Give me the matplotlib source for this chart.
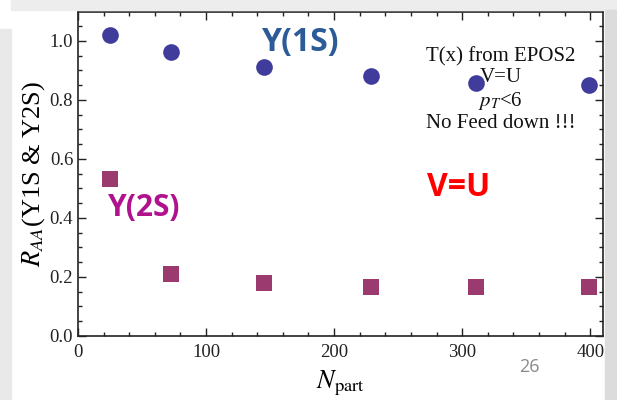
import matplotlib
matplotlib.use("Agg")
import matplotlib.pyplot as plt
from matplotlib.patches import Rectangle
from matplotlib.ticker import MultipleLocator

# --- Data ---
npart = [25, 73, 145, 229, 311, 399]
raa_1s = [1.02, 0.963, 0.91, 0.881, 0.857, 0.851]
raa_2s = [0.532, 0.21, 0.178, 0.165, 0.165, 0.165]

x_ticks = [0, 100, 200, 300, 400]
y_ticks = [0.0, 0.2, 0.4, 0.6, 0.8, 1.0]

info_lines = ["T(x) from EPOS2", "V=U", "$p_T$<6", "No Feed down !!!"]

plt.rcParams['font.family'] = ['Liberation Serif', 'DejaVu Serif']
plt.rcParams['mathtext.fontset'] = 'stix'

fig = plt.figure(figsize=(6.17, 4.0), dpi=100)

# slide background bands
fig.patches.append(Rectangle((11 / 617, 390 / 400), 606 / 617, 10 / 400,
                             transform=fig.transFigure, color='#ededed', zorder=0))
fig.patches.append(Rectangle((0, 0), 11 / 617, 371 / 400,
                             transform=fig.transFigure, color='#e9e9e9', zorder=0))
fig.patches.append(Rectangle((605 / 617, 0), 12 / 617, 390 / 400,
                             transform=fig.transFigure, color='#dcdcdc', zorder=0))

ax = fig.add_axes([78 / 617, 64 / 400, 525 / 617, 324 / 400])
ax.set_facecolor('white')

ax.plot(npart, raa_1s, 'o', color='#3f3c9b', markersize=12, markeredgewidth=0, zorder=3)
ax.plot(npart, raa_2s, 's', color='#9a3a6e', markersize=11.3, markeredgewidth=0, zorder=3)

ax.set_xlim(0, 410)
ax.set_ylim(0, 1.098)
ax.set_xticks(x_ticks)
ax.set_yticks(y_ticks)
ax.set_yticklabels([f"{v:.1f}" for v in y_ticks])
ax.xaxis.set_minor_locator(MultipleLocator(20))
ax.yaxis.set_minor_locator(MultipleLocator(0.05))
ax.tick_params(which='both', direction='in', top=True, right=True,
               labelsize=13.5, colors='#222222', width=1)
ax.tick_params(which='major', length=6)
ax.tick_params(which='minor', length=3)
ax.tick_params(axis='x', pad=6)
for sp in ax.spines.values():
    sp.set_color('#222222')
    sp.set_linewidth(1.2)

ax.set_xlabel(r"$N_{\rm part}$", fontsize=19, labelpad=5)
ax.set_ylabel(r"$R_{AA}$(Y1S & Y2S)", fontsize=19, labelpad=2)

# model info block in the upper right of the plot
ax.text(330, 0.835, "\n".join(info_lines),
        fontsize=15, ha='center', va='center', linespacing=1.15, color='#111111')

sans = ['Open Sans', 'DejaVu Sans']
fig.text(301 / 617, 1 - 42 / 400, "Υ(1S)", family=sans, fontweight='bold',
         fontsize=23, color='#2b5c97', ha='center', va='center')
fig.text(144 / 617, 1 - 208 / 400, "Υ(2S)", family=sans, fontweight='bold',
         fontsize=21.5, color='#b0118d', ha='center', va='center')
fig.text(459 / 617, 1 - 187 / 400, "V=U", family=sans, fontweight='bold',
         fontsize=23, color='#ff0000', ha='center', va='center')
fig.text(529 / 617, 1 - 367 / 400, "26", family=sans,
         fontsize=13, color='#8a8a8a', ha='center', va='center')

fig.savefig("out.png", dpi=100)
